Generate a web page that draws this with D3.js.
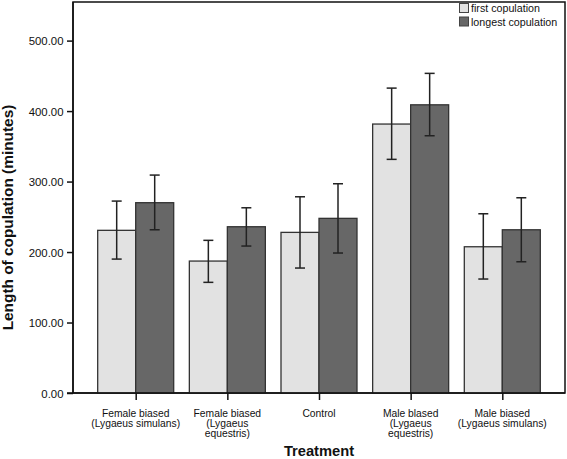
<!DOCTYPE html>
<html><head><meta charset="utf-8">
<script src="https://cdn.jsdelivr.net/npm/d3@7"></script>
<style>body{margin:0;background:#fff}svg{display:block}text{font-family:"Liberation Sans",Arial,sans-serif;fill:#111}</style>
</head><body><svg id="c" width="567" height="459"></svg>
<script>
const categories = [["Female biased","(Lygaeus simulans)"],["Female biased","(Lygaeus","equestris)"],["Control"],["Male blased","(Lygaeus","equestris)"],["Male biased","(Lygaeus simulans)"]];
const seriesNames = ["first copulation","longest copulation"];
const firstVals = [230.8,187.2,227.9,381.6,207.5];
const firstLow = [190,157,177.3,331.5,161.7];
const firstHigh = [272.3,216.6,278.4,432.6,254.3];
const longVals = [270,235.9,247.8,408.9,231.6];
const longLow = [231.6,208.5,198.6,365,186.2];
const longHigh = [309.2,262.8,296.9,453.5,277];
const yTicks = [0,100,200,300,400,500];
const colors = ["#e2e2e2","#676767"];

const svg = d3.select("#c");
const L=73,R=565,T=2,B=393;
const y = d3.scaleLinear().domain([0,500]).range([B,40.6]);
const x = d3.scalePoint().domain(d3.range(categories.length)).range([L,R]).padding(0.684);
const bw = 38;

// frame
svg.append("rect").attr("x",L).attr("y",T).attr("width",R-L).attr("height",B-T)
  .attr("fill","none").attr("stroke","#111").attr("stroke-width",1.5);

const series = [
  {vals:firstVals,low:firstLow,high:firstHigh,off:-bw,color:colors[0]},
  {vals:longVals,low:longLow,high:longHigh,off:0,color:colors[1]}
];
series.forEach(s=>{
  const g=svg.append("g");
  g.selectAll("rect").data(s.vals).join("rect")
    .attr("x",(d,i)=>x(i)+s.off).attr("width",bw)
    .attr("y",d=>y(d)).attr("height",d=>B-y(d))
    .attr("fill",s.color).attr("stroke","#333").attr("stroke-width",1.3);
});
series.forEach(s=>{
  const g=svg.append("g").attr("stroke","#222").attr("stroke-width",1.5);
  s.vals.forEach((d,i)=>{
    const cx=x(i)+s.off+bw/2;
    g.append("line").attr("x1",cx).attr("x2",cx).attr("y1",y(s.low[i])).attr("y2",y(s.high[i]));
    g.append("line").attr("x1",cx-5).attr("x2",cx+5).attr("y1",y(s.low[i])).attr("y2",y(s.low[i]));
    g.append("line").attr("x1",cx-5).attr("x2",cx+5).attr("y1",y(s.high[i])).attr("y2",y(s.high[i]));
  });
});

// y axis
const ya = svg.append("g").attr("transform",`translate(${L},0)`)
  .call(d3.axisLeft(y).tickValues(yTicks).tickFormat(d3.format(".2f")).tickSize(6).tickSizeOuter(0));
ya.select(".domain").remove();
ya.selectAll(".tick line").attr("stroke","#111").attr("stroke-width",1.5);
ya.selectAll(".tick text").attr("x",-9.5).attr("dy","0.36em").style("font-size","11.4px").style("font-family","'Liberation Sans',Arial,sans-serif").attr("fill","#111");
svg.append("line").attr("x1",L).attr("x2",L).attr("y1",T).attr("y2",B).attr("stroke","#111").attr("stroke-width",1.5);

// x axis
const xa = svg.append("g").attr("transform",`translate(0,${B})`)
  .call(d3.axisBottom(x).tickSize(7).tickFormat(""));
xa.select(".domain").remove();
xa.selectAll(".tick line").attr("stroke","#111").attr("stroke-width",1.5);
svg.append("line").attr("x1",L-6).attr("x2",R).attr("y1",B).attr("y2",B).attr("stroke","#111").attr("stroke-width",1.5);

categories.forEach((lines,i)=>{
  const t=svg.append("text").attr("text-anchor","middle").style("font-size","10.3px");
  lines.forEach((ln,j)=>t.append("tspan").attr("x",x(i)).attr("y",417+j*10).text(ln));
});

svg.append("text").attr("x",(L+R)/2).attr("y",456).attr("text-anchor","middle")
  .style("font-size","14.7px").style("font-weight","bold").text("Treatment");
svg.append("text").attr("transform","translate(13,217.5) rotate(-90)").attr("text-anchor","middle")
  .style("font-size","15.4px").style("font-weight","bold").text("Length of copulation (minutes)");

// legend
const lg=svg.append("g");
seriesNames.forEach((n,i)=>{
  lg.append("rect").attr("x",459.5).attr("y",3.5+i*13.5).attr("width",9).attr("height",9)
    .attr("fill",colors[i]).attr("stroke","#444").attr("stroke-width",1);
  lg.append("text").attr("x",471).attr("y",12+i*13.5).style("font-size","10.7px").text(n);
});
</script></body></html>
